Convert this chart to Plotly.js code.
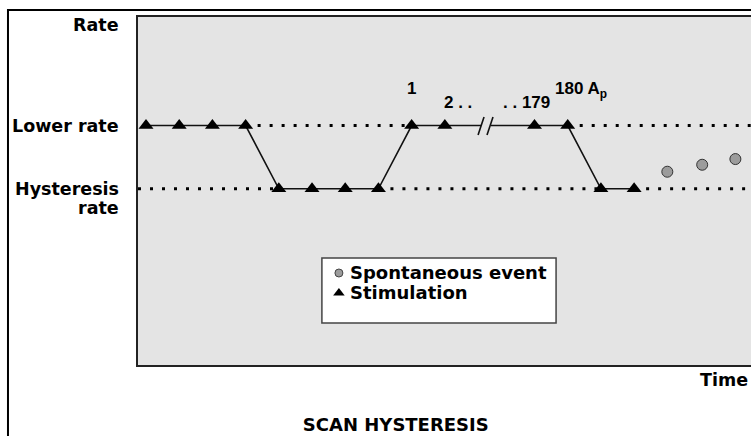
<!DOCTYPE html>
<html>
<head>
<meta charset="utf-8">
<script src="https://cdn.plot.ly/plotly-3.0.1.min.js"></script>
<style>html,body{margin:0;padding:0;background:#fff;}</style>
</head>
<body>
<div id="chart" style="width:751px;height:436px;"></div>
<script>
// ---- data ----
const LOWER_RATE = 1;
const HYST_RATE = 0;
const beatX    = [0, 1, 2, 3, 4, 5, 6, 7, 8, 9, 11.7, 12.7, 13.7, 14.7];
const beatRate = [1, 1, 1, 1, 0, 0, 0, 0, 1, 1, 1, 1, 0, 0];
const spontX    = [15.7, 16.75, 17.75];
const spontRate = [0.27, 0.38, 0.47];
const breakX = [10.09, 10.39];
const slash1X = [10.0, 10.18];
const slash2X = [10.27, 10.45];
const slashY  = [0.85, 1.134];
const beatLabels = ['1', '2 . .', '. . 179', '180 A<sub>p</sub>'];
const legendNames = ['Spontaneous event', 'Stimulation'];
const xRange = [-0.241, 18.22];
const yRange = [-2.783, 2.714];

// ---- derived ----
const pathX = [], pathY = [];
for (let i = 0; i < beatX.length; i++) {
  if (i === 10) {
    pathX.push(breakX[0], null, breakX[1]);
    pathY.push(LOWER_RATE, null, LOWER_RATE);
  }
  pathX.push(beatX[i]); pathY.push(beatRate[i]);
}
const lowerDotX = [beatX[3], beatX[8], null, beatX[11], xRange[1]];
const lowerDotY = [LOWER_RATE, LOWER_RATE, null, LOWER_RATE, LOWER_RATE];
const hystDotX = [xRange[0], beatX[4], null, beatX[7], beatX[12], null, beatX[13], xRange[1]];
const hystDotY = [HYST_RATE, HYST_RATE, null, HYST_RATE, HYST_RATE, null, HYST_RATE, HYST_RATE];

const WORD = {family: 'DejaVu Sans', size: 17.5, color: '#000', weight: 700};
const LEG = {family: 'DejaVu Sans', size: 18, color: '#000', weight: 700};
const NUM = {family: 'Liberation Sans, Arial', size: 17, color: '#000', weight: 700};
const dotLine = {color: '#000', width: 3, dash: '3px,9px'};

const traces = [
  {x: lowerDotX, y: lowerDotY, mode: 'lines', line: dotLine, hoverinfo: 'skip'},
  {x: hystDotX, y: hystDotY, mode: 'lines', line: dotLine, hoverinfo: 'skip'},
  {x: pathX, y: pathY, mode: 'lines', line: {color: '#111', width: 1.6}, connectgaps: false, hoverinfo: 'skip'},
  {x: slash1X, y: slashY, mode: 'lines', line: {color: '#111', width: 1.6}, hoverinfo: 'skip'},
  {x: slash2X, y: slashY, mode: 'lines', line: {color: '#111', width: 1.6}, hoverinfo: 'skip'},
  {x: beatX, y: beatRate, mode: 'markers', name: legendNames[1],
   marker: {symbol: 'triangle-up', size: 13, color: '#000'}},
  {x: spontX, y: spontRate, mode: 'markers', name: legendNames[0],
   marker: {symbol: 'circle', size: 11, color: '#9c9c9c', line: {color: '#333', width: 1}}},
  // legend symbols
  {x: [5.81], y: [-1.33], mode: 'markers', hoverinfo: 'skip',
   marker: {symbol: 'circle', size: 8, color: '#9c9c9c', line: {color: '#444', width: 1}}},
  {x: [5.81], y: [-1.646], mode: 'markers', hoverinfo: 'skip',
   marker: {symbol: 'triangle-up', size: 10, color: '#000'}}
];

const ann = (text, x, y, xref, yref, xanchor, font) => ({
  text, x, y, xref, yref, xanchor, yanchor: 'middle', showarrow: false, font, align: xanchor
});

const LX = -0.0277;
const layout = {
  width: 751, height: 436,
  margin: {l: 138, r: 0, t: 17, b: 71, pad: 0},
  paper_bgcolor: '#fff',
  plot_bgcolor: '#e4e4e4',
  showlegend: false,
  title: {text: 'SCAN HYSTERESIS', x: 0.527, xref: 'container', y: 0.025, yref: 'container',
          xanchor: 'center', yanchor: 'middle', font: LEG},
  xaxis: {range: xRange, showgrid: false, zeroline: false, showticklabels: false, ticks: '',
          showline: true, mirror: true, linecolor: '#222', linewidth: 2, fixedrange: true},
  yaxis: {range: yRange, showgrid: false, zeroline: false, showticklabels: false, ticks: '',
          showline: true, mirror: false, linecolor: '#222', linewidth: 2, fixedrange: true},
  shapes: [
    {type: 'rect', xref: 'paper', yref: 'paper', x0: 0.300, x1: 0.682, y0: 0.1207, y1: 0.3075,
     fillcolor: '#fff', line: {color: '#444', width: 1.5}, layer: 'below'},
    {type: 'rect', xref: 'paper', yref: 'paper', x0: -0.2121, x1: 1.5, y0: -1, y1: 1.0201,
     fillcolor: 'rgba(0,0,0,0)', line: {color: '#000', width: 2}, layer: 'above'}
  ],
  annotations: [
    ann('Rate', LX, 0.977, 'paper', 'paper', 'right', WORD),
    ann('Lower rate', LX, LOWER_RATE, 'paper', 'y', 'right', WORD),
    ann('Hysteresis', LX, 0.0, 'paper', 'y', 'right', WORD),
    ann('rate', LX, -0.3, 'paper', 'y', 'right', WORD),
    ann('Time', 0.998, -0.043, 'paper', 'paper', 'right', WORD),
    ann(legendNames[0], 0.3425, 0.2644, 'paper', 'paper', 'left', LEG),
    ann(legendNames[1], 0.3425, 0.2069, 'paper', 'paper', 'left', LEG),
    ann(beatLabels[0], beatX[8], 1.577, 'x', 'y', 'center', NUM),
    ann(beatLabels[1], 8.92, 1.356, 'x', 'y', 'left', NUM),
    ann(beatLabels[2], 12.23, 1.356, 'x', 'y', 'right', NUM),
    ann(beatLabels[3], 12.25, 1.56, 'x', 'y', 'left', NUM)
  ]
};

Plotly.newPlot('chart', traces, layout, {staticPlot: true, displayModeBar: false});
</script>
</body>
</html>
